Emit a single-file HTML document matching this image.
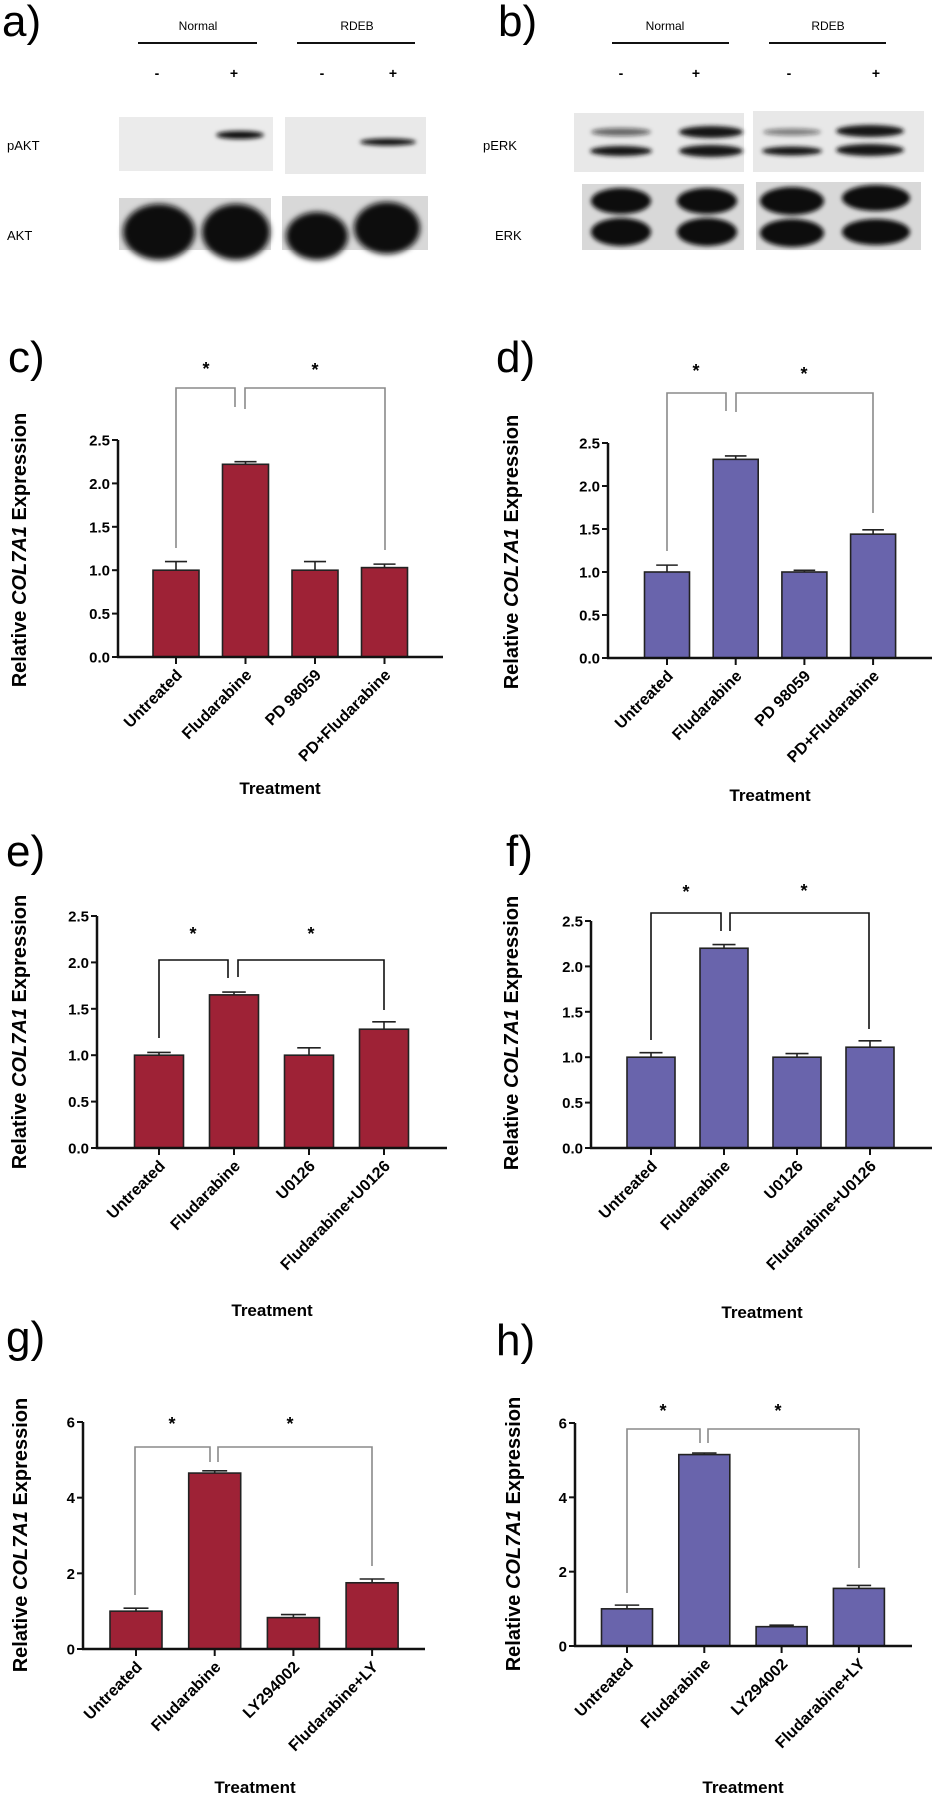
<!DOCTYPE html>
<html><head><meta charset="utf-8"><style>
html,body{margin:0;padding:0;background:#fff}
svg{display:block}
text{font-family:"Liberation Sans",Arial,sans-serif}
</style></head><body>
<svg id="fig" width="938" height="1800" viewBox="0 0 938 1800" xmlns="http://www.w3.org/2000/svg">
<defs>
<filter id="bl" x="-30%" y="-60%" width="160%" height="220%"><feGaussianBlur stdDeviation="2.2"/></filter>
<filter id="bl2" x="-30%" y="-60%" width="160%" height="220%"><feGaussianBlur stdDeviation="3"/></filter>
</defs>
<g>
<text x="2" y="36" font-size="44">a)</text>
<text x="198" y="30" font-size="12" text-anchor="middle">Normal</text>
<line x1="138" y1="43" x2="257" y2="43" stroke="#111" stroke-width="2"/>
<text x="357" y="30" font-size="12" text-anchor="middle">RDEB</text>
<line x1="297" y1="43" x2="415" y2="43" stroke="#111" stroke-width="2"/>
<g font-size="14" font-weight="bold" text-anchor="middle">
<text x="157" y="78">-</text>
<text x="234" y="78">+</text>
<text x="322" y="78">-</text>
<text x="393" y="78">+</text>
</g>
<text x="7" y="150" font-size="13">pAKT</text>
<text x="7" y="240" font-size="13">AKT</text>
<rect x="119" y="117" width="154" height="54" fill="#ebebeb"/>
<rect x="285" y="117" width="141" height="57" fill="#e9e9e9"/>
<ellipse cx="240" cy="135" rx="24" ry="4" fill="#111" filter="url(#bl)"/>
<ellipse cx="388" cy="142" rx="28" ry="3.5" fill="#111" filter="url(#bl)"/>
<rect x="119" y="198" width="152" height="52" fill="#d8d8d8"/>
<rect x="282" y="196" width="146" height="54" fill="#d8d8d8"/>
<ellipse cx="159" cy="232" rx="36" ry="28" fill="#0a0a0a" filter="url(#bl2)"/>
<ellipse cx="236" cy="232" rx="34" ry="28" fill="#0a0a0a" filter="url(#bl2)"/>
<ellipse cx="317" cy="236" rx="31" ry="24" fill="#0a0a0a" filter="url(#bl2)"/>
<ellipse cx="387" cy="228" rx="33" ry="26" fill="#0a0a0a" filter="url(#bl2)"/>
</g>
<g>
<text x="498" y="36" font-size="44">b)</text>
<text x="665" y="30" font-size="12" text-anchor="middle">Normal</text>
<line x1="612" y1="43" x2="729" y2="43" stroke="#111" stroke-width="2"/>
<text x="828" y="30" font-size="12" text-anchor="middle">RDEB</text>
<line x1="769" y1="43" x2="886" y2="43" stroke="#111" stroke-width="2"/>
<g font-size="14" font-weight="bold" text-anchor="middle">
<text x="621" y="78">-</text>
<text x="696" y="78">+</text>
<text x="789" y="78">-</text>
<text x="876" y="78">+</text>
</g>
<text x="483" y="150" font-size="13">pERK</text>
<text x="495" y="240" font-size="13">ERK</text>
<rect x="574" y="113" width="170" height="59" fill="#e8e8e8"/>
<rect x="753" y="111" width="171" height="61" fill="#e8e8e8"/>
<g fill="#151515" filter="url(#bl)">
<ellipse cx="621" cy="132" rx="30" ry="4" opacity="0.6"/>
<ellipse cx="621" cy="151" rx="31" ry="5"/>
<ellipse cx="711" cy="132" rx="32" ry="6"/>
<ellipse cx="711" cy="151" rx="32" ry="6"/>
<ellipse cx="792" cy="132" rx="29" ry="3.5" opacity="0.5"/>
<ellipse cx="792" cy="151" rx="30" ry="4.5"/>
<ellipse cx="870" cy="131" rx="34" ry="6"/>
<ellipse cx="870" cy="150" rx="34" ry="6"/>
</g>
<rect x="582" y="184" width="162" height="66" fill="#d8d8d8"/>
<rect x="756" y="182" width="165" height="68" fill="#d8d8d8"/>
<g fill="#0a0a0a" filter="url(#bl)">
<ellipse cx="621" cy="201" rx="30" ry="13"/>
<ellipse cx="621" cy="232" rx="30" ry="14"/>
<ellipse cx="707" cy="201" rx="30" ry="13"/>
<ellipse cx="707" cy="232" rx="30" ry="14"/>
<ellipse cx="792" cy="201" rx="32" ry="14"/>
<ellipse cx="792" cy="233" rx="32" ry="14"/>
<ellipse cx="876" cy="198" rx="34" ry="13"/>
<ellipse cx="876" cy="232" rx="34" ry="13"/>
</g>
</g>
<g id="charts"></g>
</svg>
<script>
const catsPD = ["Untreated", "Fludarabine", "PD 98059", "PD+Fludarabine"];
const catsU = ["Untreated", "Fludarabine", "U0126", "Fludarabine+U0126"];
const catsLY = ["Untreated", "Fludarabine", "LY294002", "Fludarabine+LY"];
const ticks25 = [0, 0.5, 1.0, 1.5, 2.0, 2.5];
const tickLabels25 = ["0.0", "0.5", "1.0", "1.5", "2.0", "2.5"];
const ticks6 = [0, 2, 4, 6];
const tickLabels6 = ["0", "2", "4", "6"];
const valsC = [1.0, 2.22, 1.0, 1.03];
const errC = [0.1, 0.03, 0.1, 0.04];
const valsD = [1.0, 2.31, 1.0, 1.44];
const errD = [0.08, 0.04, 0.02, 0.05];
const valsE = [1.0, 1.65, 1.0, 1.28];
const errE = [0.03, 0.03, 0.08, 0.08];
const valsF = [1.0, 2.2, 1.0, 1.11];
const errF = [0.05, 0.04, 0.04, 0.07];
const valsG = [1.0, 4.65, 0.83, 1.75];
const errG = [0.08, 0.06, 0.08, 0.1];
const valsH = [1.0, 5.15, 0.52, 1.55];
const errH = [0.1, 0.04, 0.04, 0.08];

const RED = "#9e2236", PURPLE = "#6964ac";
const NS = "http://www.w3.org/2000/svg";
const root = document.getElementById("charts");
function mk(tag, attrs, parent, txt) {
  const e = document.createElementNS(NS, tag);
  for (const k in attrs) e.setAttribute(k, attrs[k]);
  if (txt !== undefined) e.textContent = txt;
  parent.appendChild(e);
  return e;
}

const panels = [
  {id:"c", cats:catsPD, vals:valsC, errs:errC, ticks:ticks25, tl:tickLabels25, ymax:2.5, color:RED,
   ax:118, y0:657, ytop:440, xend:443, off:58, step:69.5, bw:46,
   letter:[8,372], ytitle:[26,550], treat:[280,794],
   br:{top:388, col:"#8a8a8a", l:[176,548], m1:[235,407], m2:[245,409], r:[385,550], s1:[206,365], s2:[315,366]}},
  {id:"d", cats:catsPD, vals:valsD, errs:errD, ticks:ticks25, tl:tickLabels25, ymax:2.5, color:PURPLE,
   ax:608, y0:658, ytop:443, xend:932, off:59, step:68.7, bw:45,
   letter:[496,372], ytitle:[518,552], treat:[770,801],
   br:{top:393, col:"#8a8a8a", l:[667,551], m1:[726,411], m2:[736,412], r:[873,513], s1:[696,367], s2:[804,370]}},
  {id:"e", cats:catsU, vals:valsE, errs:errE, ticks:ticks25, tl:tickLabels25, ymax:2.5, color:RED,
   ax:97, y0:1148, ytop:916, xend:447, off:62, step:75, bw:49,
   letter:[6,866], ytitle:[26,1032], treat:[272,1316],
   br:{top:960, col:"#111", l:[159,1038], m1:[228,978], m2:[238,977], r:[384,1010], s1:[193,930], s2:[311,930]}},
  {id:"f", cats:catsU, vals:valsF, errs:errF, ticks:ticks25, tl:tickLabels25, ymax:2.5, color:PURPLE,
   ax:591, y0:1148, ytop:921, xend:932, off:60, step:73, bw:48,
   letter:[506,866], ytitle:[518,1033], treat:[762,1318],
   br:{top:913, col:"#111", l:[651,1040], m1:[721,931], m2:[730,931], r:[869,1029], s1:[686,888], s2:[804,887]}},
  {id:"g", cats:catsLY, vals:valsG, errs:errG, ticks:ticks6, tl:tickLabels6, ymax:6, color:RED,
   ax:83, y0:1649, ytop:1422, xend:425, off:53, step:78.7, bw:52,
   letter:[6,1352], ytitle:[27,1535], treat:[255,1793],
   br:{top:1447, col:"#8a8a8a", l:[135,1595], m1:[210,1462], m2:[218,1462], r:[372,1566], s1:[172,1420], s2:[290,1420]}},
  {id:"h", cats:catsLY, vals:valsH, errs:errH, ticks:ticks6, tl:tickLabels6, ymax:6, color:PURPLE,
   ax:575, y0:1646, ytop:1423, xend:912, off:52, step:77.3, bw:51,
   letter:[496,1355], ytitle:[520,1534], treat:[743,1793],
   br:{top:1429, col:"#8a8a8a", l:[627,1593], m1:[700,1443], m2:[708,1443], r:[859,1568], s1:[663,1407], s2:[778,1407]}}
];

panels.forEach(p => {
  const g = mk("g", {}, root);
  
  
  const yS = v => p.y0 - (v / p.ymax) * (p.y0 - p.ytop);
  const xS = i => p.ax + p.off + i * p.step;

  const lt = mk("text", {x:p.letter[0], y:p.letter[1], "font-size":44}, g, p.id + ")");
  
  

  const yt = mk("text", {x:0, y:0, "font-size":20, "font-weight":"bold", "text-anchor":"middle",
    transform:"translate(" + p.ytitle[0] + "," + p.ytitle[1] + ") rotate(-90)"}, g);
  
  
  mk("tspan", {}, yt, "Relative ");
  mk("tspan", {"font-style":"italic"}, yt, "COL7A1");
  mk("tspan", {}, yt, " Expression");

  p.vals.forEach((v, i) => {
    const cx = xS(i);
    const top = yS(v);
    const r = mk("rect", {x:cx - p.bw/2, y:top, width:p.bw, height:p.y0 - top, fill:p.color, stroke:"#222", "stroke-width":1.6}, g);
    
    
    const et = yS(v + p.errs[i]);
    const cw = p.bw * 0.24;
    const eb = mk("path", {d:"M" + cx + " " + top + "V" + et + "M" + (cx - cw) + " " + et + "H" + (cx + cw), stroke:"#222", "stroke-width":1.6, fill:"none"}, g);
    
    
  });

  const ya = mk("line", {x1:p.ax, y1:p.ytop, x2:p.ax, y2:p.y0 + 1, stroke:"#111", "stroke-width":2.5}, g);
  
  
  const xa = mk("line", {x1:p.ax - 1, y1:p.y0, x2:p.xend, y2:p.y0, stroke:"#111", "stroke-width":2.5}, g);
  
  

  p.ticks.forEach((t, i) => {
    const y = yS(t);
    const tk = mk("line", {x1:p.ax - 6, y1:y, x2:p.ax, y2:y, stroke:"#111", "stroke-width":2}, g);
    
    
    const tx = mk("text", {x:p.ax - 8, y:y + 5.5, "font-size":15, "font-weight":"bold", "text-anchor":"end"}, g, p.tl[i]);
    
    
  });

  p.cats.forEach((c, i) => {
    const x = xS(i);
    const tk = mk("line", {x1:x, y1:p.y0, x2:x, y2:p.y0 + 7, stroke:"#111", "stroke-width":2}, g);
    
    
    const tx = mk("text", {x:0, y:0, "font-size":16, "font-weight":"bold", "text-anchor":"end",
      transform:"translate(" + (x + 7) + "," + (p.y0 + 19) + ") rotate(-45)"}, g, c);
    
    
  });

  const tr = mk("text", {x:p.treat[0], y:p.treat[1], "font-size":17, "font-weight":"bold", "text-anchor":"middle"}, g, "Treatment");
  
  

  const b = p.br;
  const b1 = mk("path", {d:"M" + b.l[0] + " " + b.l[1] + "V" + b.top + "H" + b.m1[0] + "V" + b.m1[1], stroke:b.col, "stroke-width":1.6, fill:"none"}, g);
  
  
  const b2 = mk("path", {d:"M" + b.m2[0] + " " + b.m2[1] + "V" + b.top + "H" + b.r[0] + "V" + b.r[1], stroke:b.col, "stroke-width":1.6, fill:"none"}, g);
  
  
  const s1 = mk("text", {x:b.s1[0], y:b.s1[1] + 10, "font-size":18, "font-weight":"bold", "text-anchor":"middle"}, g, "*");
  
  
  const s2 = mk("text", {x:b.s2[0], y:b.s2[1] + 10, "font-size":18, "font-weight":"bold", "text-anchor":"middle"}, g, "*");
  
  
});
</script>
</body></html>
